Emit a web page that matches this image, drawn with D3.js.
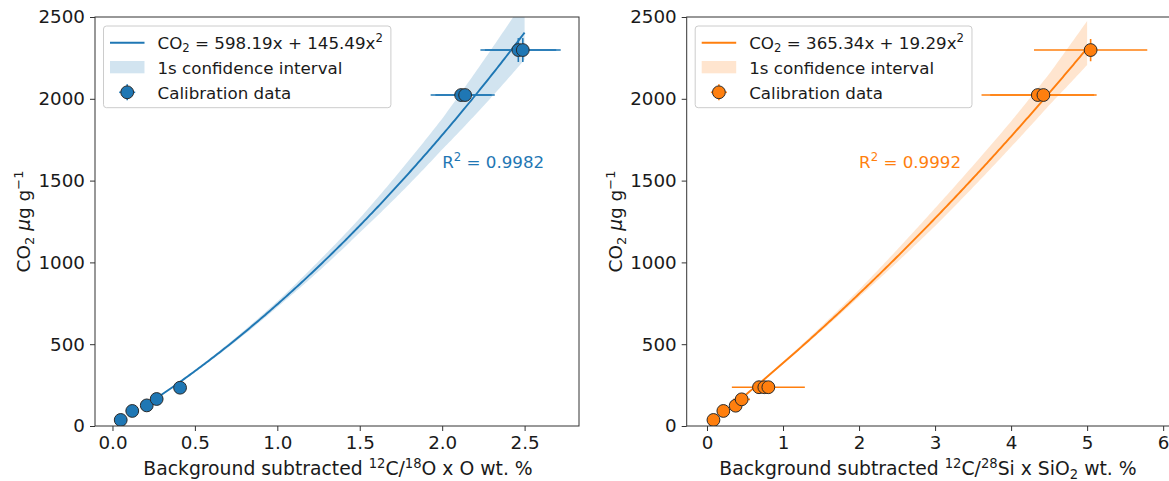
<!DOCTYPE html>
<html>
<head>
<meta charset="utf-8">
<script src="https://cdn.jsdelivr.net/npm/d3@7"></script>
<style>
  body { margin: 0; background: #fff; }
  svg text { font-family: "DejaVu Sans", sans-serif; fill: #1a1a1a; }
</style>
</head>
<body>
<svg id="chart" width="1169" height="481"></svg>
<script>
// ---- data ----
var yTicks = [0, 500, 1000, 1500, 2000, 2500];

// left panel: 12C/18O x O
var leftX    = [0.050, 0.120, 0.208, 0.268, 0.410, 2.115, 2.139, 2.462, 2.489];
var leftY    = [37, 92, 126, 165, 234, 2023, 2023, 2298, 2298];
var leftXerr = [0.01, 0.01, 0.01, 0.01, 0.02, 0.185, 0.18, 0.23, 0.23];
var leftYerr = [5, 8, 10, 12, 20, 30, 30, 73, 73];
var leftFit = [598.19, 145.49];
var leftFitRange = [0.268, 2.5];
var leftBandX  = [0.268, 0.5, 1.0, 1.5, 2.0, 2.5];
var leftBandUp = [3, 7, 18, 45, 100, 200];
var leftBandLo = [3, 7, 17, 42, 88, 165];
var leftR2 = "0.9982";
var leftXTicks = [0, 0.5, 1.0, 1.5, 2.0, 2.5];

// right panel: 12C/28Si x SiO2
var rightX    = [0.085, 0.215, 0.377, 0.456, 0.684, 0.754, 0.807, 4.351, 4.425, 5.046];
var rightY    = [37, 92, 124, 163, 237, 237, 237, 2023, 2023, 2298];
var rightXerr = [0.02, 0.03, 0.05, 0.11, 0.05, 0.06, 0.48, 0.74, 0.7, 0.745];
var rightYerr = [5, 8, 10, 12, 20, 20, 20, 30, 30, 68];
var rightFit = [365.34, 19.29];
var rightFitRange = [0.45, 5.0];
var rightBandX  = [0.45, 1, 2, 3, 4, 4.5, 5.0];
var rightBandUp = [3, 8, 25, 62, 92, 117, 167];
var rightBandLo = [3, 6, 19, 47, 64, 74, 102];
var rightR2 = "0.9992";
var rightXTicks = [0, 1, 2, 3, 4, 5, 6];

var svg = d3.select("#chart");

// draws text made of pieces, some raised or lowered
function richText(sel, parts, size) {
	var shift = 0;
	parts.forEach(function (p) {
		var t = sel.append("tspan").text(p.t);
		var want = p.sup ? -0.38 * size : (p.sub ? 0.22 * size : 0);
		if (want != shift) { t.attr("dy", want - shift); shift = want; }
		if (p.sup || p.sub) t.attr("font-size", (size * 0.7) + "px");
		if (p.it) t.attr("font-style", "italic");
	});
}

function panel(cfg) {
	var x = d3.scaleLinear().domain(cfg.xDomain).range([cfg.left, cfg.right]);
	var y = d3.scaleLinear().domain([0, 2500]).range([426, 17]);
	var g = svg.append("g");

	var clipId = "clip" + cfg.id;
	svg.append("clipPath").attr("id", clipId)
		.append("rect")
		.attr("x", cfg.left).attr("y", 17)
		.attr("width", cfg.right - cfg.left).attr("height", 409);

	var plot = g.append("g").attr("clip-path", "url(#" + clipId + ")");

	var fit = function (v) { return cfg.fit[0] * v + cfg.fit[1] * v * v; };
	var up = d3.scaleLinear().domain(cfg.bandX).range(cfg.bandUp);
	var lo = d3.scaleLinear().domain(cfg.bandX).range(cfg.bandLo);
	var xs = d3.range(0, 201).map(function (i) {
		return cfg.fitRange[0] + (cfg.fitRange[1] - cfg.fitRange[0]) * i / 200;
	});

	// fit line
	plot.append("path")
		.datum(xs)
		.attr("d", d3.line().x(function (d) { return x(d); }).y(function (d) { return y(fit(d)); }))
		.style("fill", "none")
		.style("stroke", cfg.color)
		.style("stroke-width", 1.9);

	// confidence band
	plot.append("path")
		.datum(xs)
		.attr("d", d3.area()
			.x(function (d) { return x(d); })
			.y0(function (d) { return y(fit(d) - lo(d)); })
			.y1(function (d) { return y(fit(d) + up(d)); }))
		.style("fill", cfg.color)
		.style("fill-opacity", 0.2)
		.style("stroke", "none");

	// error bars
	var pts = cfg.xs.map(function (v, i) {
		return { x: v, y: cfg.ys[i], xe: cfg.xerr[i], ye: cfg.yerr[i] };
	});
	var eb = plot.append("g").style("stroke", cfg.color).style("stroke-width", 1.6);
	eb.selectAll(".h").data(pts).enter().append("line")
		.attr("x1", function (d) { return x(d.x - d.xe); })
		.attr("x2", function (d) { return x(d.x + d.xe); })
		.attr("y1", function (d) { return y(d.y); })
		.attr("y2", function (d) { return y(d.y); });
	eb.selectAll(".v").data(pts).enter().append("line")
		.attr("x1", function (d) { return x(d.x); })
		.attr("x2", function (d) { return x(d.x); })
		.attr("y1", function (d) { return y(d.y - d.ye); })
		.attr("y2", function (d) { return y(d.y + d.ye); });

	plot.selectAll("circle").data(pts).enter().append("circle")
		.attr("cx", function (d) { return x(d.x); })
		.attr("cy", function (d) { return y(d.y); })
		.attr("r", 6.4)
		.style("fill", cfg.color)
		.style("stroke", "#2a2a2a")
		.style("stroke-width", 1);

	// R^2
	var r2 = plot.append("text")
		.attr("x", x(2.0)).attr("y", y(1580))
		.attr("font-size", "16.7px");
	richText(r2, [{ t: "R" }, { t: "2", sup: true }, { t: " = " + cfg.r2 }], 16.7);
	r2.selectAll("tspan").style("fill", cfg.color);

	// axes
	var xa = g.append("g").attr("transform", "translate(0,426)")
		.call(d3.axisBottom(x).tickValues(cfg.xTicks).tickSize(5).tickPadding(5)
			.tickFormat(cfg.xFmt));
	var ya = g.append("g").attr("transform", "translate(" + cfg.left + ",0)")
		.call(d3.axisLeft(y).tickValues(yTicks).tickSize(5).tickPadding(5)
			.tickFormat(d3.format("d")));
	[xa, ya].forEach(function (a) {
		a.select(".domain").remove();
		a.selectAll("line").style("stroke", "#333").style("stroke-width", 1);
		a.selectAll("text").attr("font-size", "18.3px").attr("font-family", "DejaVu Sans")
			.style("fill", "#1a1a1a");
	});

	g.append("rect")
		.attr("x", cfg.left).attr("y", 17)
		.attr("width", cfg.right - cfg.left).attr("height", 409)
		.style("fill", "none").style("stroke", "#333").style("stroke-width", 1);

	// axis labels
	var xl = g.append("text")
		.attr("x", cfg.xlCenter)
		.attr("y", 475).attr("text-anchor", "middle").attr("font-size", "18.8px");
	richText(xl, cfg.xLabel, 18.8);

	var yl = g.append("text")
		.attr("transform", "translate(" + (cfg.left - 65) + ",221.5) rotate(-90)")
		.attr("text-anchor", "middle").attr("font-size", "18.5px");
	richText(yl, [{ t: "CO" }, { t: "2", sub: true }, { t: " " }, { t: "\u03bc", it: true },
		{ t: "g g" }, { t: "\u22121", sup: true }], 18.5);

	// legend
	var lx = cfg.left + 8.5, ly = 26;
	var leg = g.append("g");
	var box = leg.append("rect")
		.attr("x", lx).attr("y", ly).attr("height", 81.7).attr("rx", 3)
		.style("fill", "#fff").style("fill-opacity", 0.8)
		.style("stroke", "#cccccc").style("stroke-width", 1);
	leg.append("line")
		.attr("x1", lx + 6.5).attr("x2", lx + 41).attr("y1", ly + 16.7).attr("y2", ly + 16.7)
		.style("stroke", cfg.color).style("stroke-width", 1.9);
	leg.append("rect")
		.attr("x", lx + 6.5).attr("y", ly + 35).attr("width", 34.5).attr("height", 12.3)
		.style("fill", cfg.color).style("fill-opacity", 0.2);
	var mx = lx + 23.7, my = ly + 66.3;
	leg.append("line").attr("x1", mx - 8).attr("x2", mx + 8).attr("y1", my).attr("y2", my)
		.style("stroke", cfg.color).style("stroke-width", 1.6);
	leg.append("line").attr("x1", mx).attr("x2", mx).attr("y1", my - 8).attr("y2", my + 8)
		.style("stroke", cfg.color).style("stroke-width", 1.6);
	leg.append("circle").attr("cx", mx).attr("cy", my).attr("r", 6.4)
		.style("fill", cfg.color).style("stroke", "#2a2a2a").style("stroke-width", 1);

	var t1 = leg.append("text").attr("x", lx + 54).attr("y", ly + 22.5).attr("font-size", "16.7px");
	richText(t1, [{ t: "CO" }, { t: "2", sub: true },
		{ t: " = " + cfg.fit[0].toFixed(2) + "x + " + cfg.fit[1].toFixed(2) + "x" }, { t: "2", sup: true }], 16.7);
	leg.append("text").attr("x", lx + 54).attr("y", ly + 48).attr("font-size", "16.7px")
		.text("1s confidence interval");
	leg.append("text").attr("x", lx + 54).attr("y", ly + 72.5).attr("font-size", "16.7px")
		.text("Calibration data");
	var w = t1.node().getComputedTextLength();
	box.attr("width", 54 + w + 8);
}

panel({
	id: "L", left: 95, right: 579, xDomain: [-0.106, 2.83], color: "#1f77b4",
	xs: leftX, ys: leftY, xerr: leftXerr, yerr: leftYerr,
	fit: leftFit, fitRange: leftFitRange,
	bandX: leftBandX, bandUp: leftBandUp, bandLo: leftBandLo,
	r2: leftR2, xTicks: leftXTicks, xFmt: d3.format(".1f"), xlCenter: 338,
	xLabel: [{ t: "Background subtracted " }, { t: "12", sup: true }, { t: "C/" },
		{ t: "18", sup: true }, { t: "O x O wt. %" }]
});

panel({
	id: "R", left: 686.7, right: 1170, xDomain: [-0.267, 6.09], color: "#ff7f0e",
	xs: rightX, ys: rightY, xerr: rightXerr, yerr: rightYerr,
	fit: rightFit, fitRange: rightFitRange,
	bandX: rightBandX, bandUp: rightBandUp, bandLo: rightBandLo,
	r2: rightR2, xTicks: rightXTicks, xFmt: d3.format("d"), xlCenter: 928,
	xLabel: [{ t: "Background subtracted " }, { t: "12", sup: true }, { t: "C/" },
		{ t: "28", sup: true }, { t: "Si x SiO" }, { t: "2", sub: true }, { t: " wt. %" }]
});
</script>
</body>
</html>
